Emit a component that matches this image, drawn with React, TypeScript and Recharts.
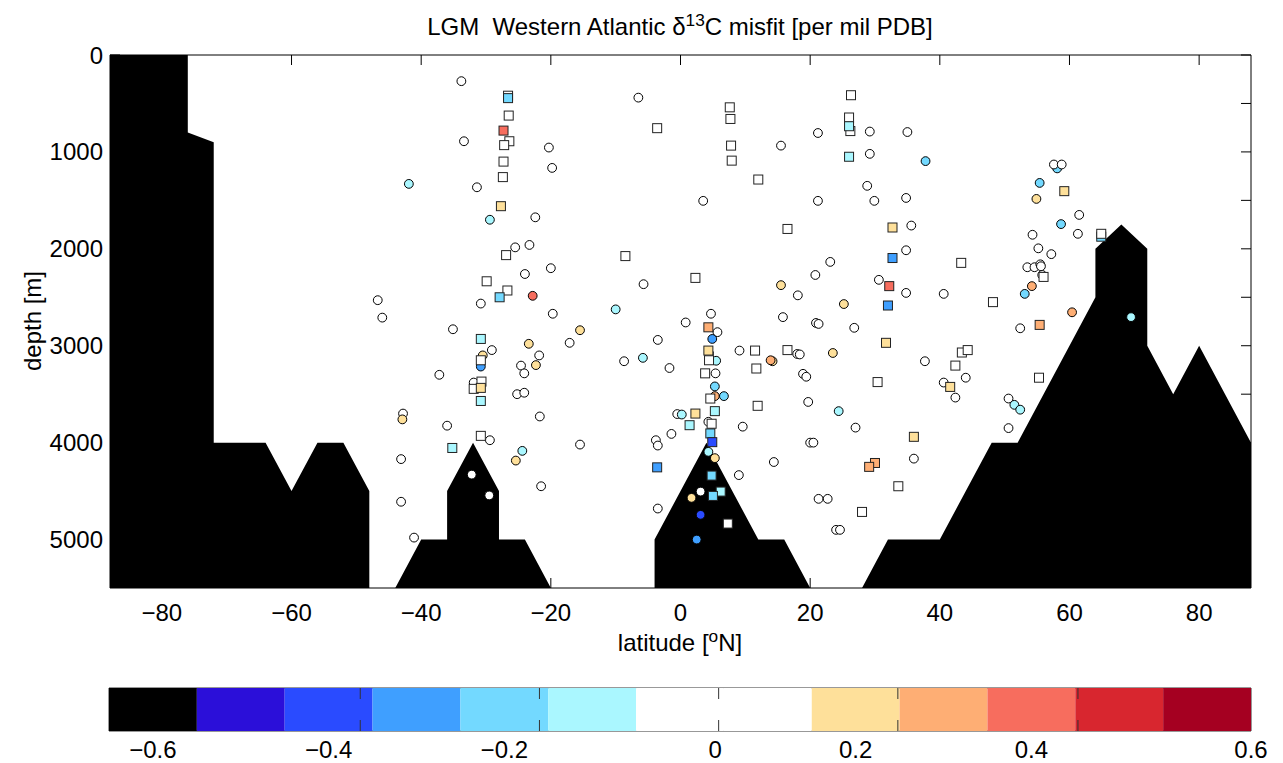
import React from 'react';
import {
  ComposedChart, Area, Scatter, XAxis, YAxis, BarChart, Bar, ReferenceArea, ReferenceLine,
} from 'recharts';

// bathymetry section (latitude, depth of sea floor)
const TOPO_LAT = [-88, -76, -76, -72, -72, -64, -60, -56, -52, -48, -48, -44, -40, -36, -36, -32, -28, -28, -24, -20, -4, -4, 4, 12, 16, 20, 28, 32, 40, 48, 52, 64, 64, 68, 72, 72, 76, 80, 88];
const TOPO_DEPTH = [0, 0, 800, 900, 4000, 4000, 4500, 4000, 4000, 4500, 5500, 5500, 5000, 5000, 4500, 4000, 4500, 5000, 5000, 5500, 5500, 5000, 4000, 5000, 5000, 5500, 5500, 5000, 5000, 4000, 4000, 2500, 2000, 1750, 2000, 3000, 3500, 3000, 4000];

// core sites: [latitude, depth, misfit]
const CIRCLE_SITES: [number, number, number][] = [
  [-33.8, 270, 0], [-33.4, 890, 0], [-20.3, 955, 0], [-19.8, 1165, 0], [-41.9, 1330, -0.1],
  [-31.4, 1365, 0], [-29.4, 1700, -0.1], [-22.4, 1675, 0], [-25.5, 1985, 0], [-23.3, 1960, 0],
  [-20.0, 2200, 0], [-24.0, 2260, 0], [-22.8, 2485, 0.4], [-46.7, 2530, 0], [-30.8, 2565, 0],
  [-46.0, 2710, 0], [-19.7, 2670, 0], [-35.1, 2830, 0], [-15.5, 2840, 0.2],
  [-29.1, 3045, 0], [-30.5, 3100, 0.2], [-30.8, 3215, -0.3], [-23.4, 2980, 0.2], [-21.8, 3100, 0],
  [-22.3, 3200, 0.2], [-24.6, 3205, 0], [-24.1, 3285, 0], [-17.1, 2970, 0], [-37.2, 3300, 0],
  [-31.9, 3380, 0], [-25.2, 3500, 0], [-24.1, 3485, 0], [-42.8, 3700, 0], [-42.9, 3760, 0.2],
  [-36.0, 3825, 0], [-21.7, 3730, 0], [-15.5, 4020, 0], [-29.4, 3975, 0], [-24.4, 4085, -0.1],
  [-25.4, 4185, 0.2], [-43.1, 4170, 0], [-21.5, 4450, 0], [-32.2, 4330, 0], [-29.5, 4545, 0],
  [-43.1, 4610, 0], [-41.1, 4980, 0],
  [-6.5, 440, 0], [15.5, 935, 0], [3.5, 1505, 0], [-5.7, 2365, 0], [15.5, 2375, 0.2],
  [18.1, 2480, 0], [-10.0, 2625, -0.1], [4.7, 2670, 0], [0.8, 2760, 0], [15.8, 2705, 0],
  [-3.5, 2940, 0], [5.7, 2860, 0], [4.9, 2930, -0.3], [4.4, 3080, 0], [5.5, 3155, -0.1],
  [-8.7, 3160, 0], [-5.8, 3125, -0.1], [-1.7, 3230, 0], [5.4, 3285, 0], [9.1, 3050, 0],
  [18.0, 3085, 0], [18.4, 3090, 0], [14.2, 3160, 0.2], [13.9, 3150, 0.3], [5.3, 3420, -0.2],
  [5.3, 3520, 0.3], [6.7, 3520, -0.2], [-0.5, 3705, 0], [0.2, 3710, -0.1], [4.3, 3785, 0],
  [9.6, 3835, 0], [-3.8, 3975, 0], [-3.5, 4030, 0], [-1.4, 3910, 0], [4.3, 4095, -0.1],
  [5.3, 4160, 0.2], [9.0, 4335, 0], [14.4, 4200, 0], [3.1, 4505, 0], [1.7, 4570, 0.2],
  [-3.5, 4680, 0], [3.1, 4745, -0.4], [2.5, 5000, -0.3],
  [21.2, 805, 0], [29.2, 790, 0], [35.0, 795, 0], [29.2, 1020, 0], [37.8, 1095, -0.2],
  [28.8, 1350, 0], [21.2, 1505, 0], [29.9, 1505, 0], [34.8, 1475, 0], [35.6, 1760, 0],
  [34.8, 2015, 0], [23.1, 2135, 0], [20.8, 2270, 0], [30.6, 2320, 0], [25.2, 2570, 0.2],
  [34.8, 2455, 0], [40.6, 2465, 0], [20.9, 2765, 0], [21.3, 2775, 0], [26.8, 2815, 0],
  [52.4, 2820, 0],
  [23.5, 3075, 0.2], [37.7, 3160, 0], [44.0, 3330, 0], [18.9, 3290, 0], [19.4, 3320, 0],
  [40.6, 3380, 0], [42.4, 3535, 0], [19.7, 3580, 0], [24.4, 3675, -0.1], [27.0, 3845, 0],
  [50.6, 3545, 0], [51.5, 3610, -0.1], [52.4, 3660, -0.1], [50.6, 3850, 0], [20.0, 4000, 0],
  [20.5, 4000, 0], [36.0, 4165, 0], [21.3, 4580, 0], [22.7, 4580, 0], [24.0, 4900, 0],
  [24.6, 4900, 0],
  [58.1, 1170, -0.2], [57.6, 1130, 0], [58.8, 1130, 0], [55.4, 1320, -0.2], [54.9, 1485, 0.2],
  [61.5, 1650, 0], [58.7, 1745, -0.2], [54.3, 1855, 0], [61.3, 1845, 0], [55.2, 1995, 0],
  [57.2, 2055, 0], [53.5, 2190, 0], [54.6, 2190, 0], [55.5, 2160, 0], [55.6, 2180, 0],
  [55.8, 2270, 0], [54.2, 2385, 0.3], [53.1, 2465, -0.2], [60.4, 2655, 0.3], [69.5, 2705, -0.1],
];

const SQUARE_SITES: [number, number, number][] = [
  [-26.6, 420, 0], [-26.6, 445, -0.2], [-26.5, 625, 0], [-27.3, 780, 0.4], [-26.4, 890, 0],
  [-27.2, 930, 0], [-27.3, 1100, 0], [-27.4, 1260, 0], [-27.7, 1560, 0.2], [-26.9, 2065, 0],
  [-29.9, 2335, 0], [-26.7, 2430, 0], [-27.9, 2500, -0.2],
  [-30.8, 2930, -0.1], [-30.8, 3150, 0], [-30.7, 3370, 0], [-31.9, 3445, 0], [-30.8, 3435, 0.2],
  [-30.8, 3570, -0.1], [-30.8, 3930, 0], [-35.2, 4055, -0.1],
  [7.6, 540, 0], [7.7, 660, 0], [-3.6, 755, 0], [7.8, 935, 0], [7.9, 1090, 0],
  [12.0, 1285, 0], [16.5, 1795, 0], [-8.5, 2075, 0], [2.3, 2300, 0],
  [4.3, 2810, 0.3], [4.3, 3050, 0.2], [4.4, 3150, 0], [3.8, 3285, 0], [11.5, 3050, 0],
  [11.7, 3235, 0], [16.5, 3045, 0], [4.6, 3545, 0], [11.9, 3620, 0], [5.3, 3675, -0.1],
  [2.3, 3700, 0.2], [1.4, 3820, -0.1], [4.8, 3805, 0], [4.6, 3905, -0.2], [4.9, 3995, -0.4],
  [-3.6, 4255, -0.3], [4.8, 4340, -0.2], [6.2, 4505, -0.1], [5.0, 4550, -0.2], [7.3, 4835, 0],
  [26.3, 415, 0], [26.0, 645, 0], [26.2, 785, 0], [26.0, 735, -0.1], [26.0, 1050, -0.1],
  [32.7, 1780, 0.2], [32.7, 2095, -0.3], [43.3, 2145, 0], [32.2, 2385, 0.4], [32.0, 2585, -0.3],
  [48.2, 2550, 0],
  [31.7, 2970, 0.2], [43.4, 3070, 0], [44.3, 3045, 0], [42.4, 3205, 0], [30.4, 3375, 0],
  [41.6, 3425, 0.2], [36.0, 3940, 0.2], [30.0, 4210, 0.3], [29.1, 4250, 0.3], [33.6, 4450, 0],
  [28.0, 4715, 0],
  [59.2, 1405, 0.2], [64.9, 1875, -0.2], [64.9, 1845, 0], [56.0, 2290, 0], [55.4, 2785, 0.3],
  [55.3, 3330, 0],
];

const LAT_TICKS = [-80, -60, -40, -20, 0, 20, 40, 60, 80];
const DEPTH_TICKS = [0, 500, 1000, 1500, 2000, 2500, 3000, 3500, 4000, 4500, 5000];

// colour bar
const CBAR_COLORS = ['#000000', '#2b0fd9', '#2a4bff', '#3f9fff', '#73d9ff', '#aaf7ff', '#ffffff', '#ffffff', '#fee09a', '#feae74', '#f76d5e', '#d8262f', '#a50021'];
const CBAR_TICK_POS = [2.86, 4.9, 6.94, 8.98, 11.03];
const CBAR_LABEL_POS = [0.5, 2.5, 4.5, 6.9, 8.5, 10.5, 13];
const CBAR_LABELS = ['\u22120.6', '\u22120.4', '\u22120.2', '0', '0.2', '0.4', '0.6'];

const FONT = '"Liberation Sans", Arial, Helvetica, sans-serif';
const FS = 24;

const misfitColor = (v: number) =>
  CBAR_COLORS[Math.max(0, Math.min(12, Math.round((v + 0.6) * 10)))];

const topo = TOPO_LAT.map((lat, i) => ({ lat, depth: TOPO_DEPTH[i] }));
const toRows = (s: [number, number, number][]) => s.map(([lat, depth, misfit]) => ({ lat, depth, misfit }));
const circles = toRows(CIRCLE_SITES);
const squares = toRows(SQUARE_SITES);

const cbarRow: any = { name: 'cb' };
CBAR_COLORS.forEach((_, i) => { cbarRow[`s${i}`] = 1; });

const minus = (v: number) => String(v).replace('-', '\u2212');

const circleShape = (p: any) => (
  <circle cx={p.cx} cy={p.cy} r={4.4} fill={misfitColor(p.payload.misfit)} stroke="#000" strokeWidth={1} />
);
const squareShape = (p: any) => (
  <rect x={p.cx - 4.5} y={p.cy - 4.5} width={9} height={9} fill={misfitColor(p.payload.misfit)} stroke="#222" strokeWidth={1} />
);

// inward tick marks on the colour bar, top and bottom edges
const cbarTick = (p: any) => {
  const top = Math.min(p.y1, p.y2);
  const bot = Math.max(p.y1, p.y2);
  return (
    <g>
      <line x1={p.x1} x2={p.x1} y1={top} y2={top + 11} stroke="#333" strokeWidth={1} />
      <line x1={p.x1} x2={p.x1} y1={bot - 11} y2={bot} stroke="#333" strokeWidth={1} />
    </g>
  );
};

const tickStyle = { fill: '#000', fontSize: FS, fontFamily: FONT };

export default function App() {
  return (
    <div style={{ position: 'absolute', left: 0, top: 0, width: 1283, height: 763, background: '#fff', fontFamily: FONT, color: '#000' }}>
      <div style={{ position: 'absolute', left: 680, top: 12, transform: 'translateX(-50%)', fontSize: FS, lineHeight: 1, whiteSpace: 'nowrap' }}>
        LGM&nbsp; Western Atlantic δ<sup style={{ fontSize: '0.72em' }}>13</sup>C misfit [per mil PDB]
      </div>

      <div style={{ position: 'absolute', left: 0, top: 0 }}>
        <ComposedChart width={1283} height={640} margin={{ top: 54, right: 31, left: 50, bottom: 12 }}>
          <XAxis
            xAxisId="b" dataKey="lat" type="number" domain={[-88, 88]} ticks={LAT_TICKS} interval={0}
            tickSize={-10} tickMargin={26} tick={tickStyle} tickFormatter={minus} height={40}
            stroke="#000" allowDataOverflow
          />
          <XAxis
            xAxisId="t" orientation="top" dataKey="lat" type="number" domain={[-88, 88]} ticks={LAT_TICKS}
            interval={0} tickSize={-10} tickFormatter={() => ''} height={1} stroke="#000" allowDataOverflow
          />
          <YAxis
            yAxisId="l" dataKey="depth" type="number" domain={[0, 5500]} reversed ticks={DEPTH_TICKS} interval={0}
            tickSize={-10} tickMargin={17} tick={tickStyle} width={60} stroke="#000" allowDataOverflow
            tickFormatter={(v: number) => (v % 1000 === 0 ? String(v) : '')}
          />
          <YAxis
            yAxisId="r" orientation="right" dataKey="depth" type="number" domain={[0, 5500]} reversed
            ticks={DEPTH_TICKS} interval={0} tickSize={-10} tickFormatter={() => ''} width={1} stroke="#000"
            allowDataOverflow
          />
          <Area
            xAxisId="b" yAxisId="l" data={topo} dataKey="depth" type="linear" baseValue={5500}
            fill="#000" fillOpacity={1} stroke="none" isAnimationActive={false} dot={false} activeDot={false}
          />
          <Scatter xAxisId="b" yAxisId="l" data={circles} shape={circleShape} isAnimationActive={false} />
          <Scatter xAxisId="b" yAxisId="l" data={squares} shape={squareShape} isAnimationActive={false} />
        </ComposedChart>
      </div>

      <div style={{ position: 'absolute', left: 33, top: 321, transform: 'translate(-50%, -50%) rotate(-90deg)', fontSize: FS, lineHeight: 1, whiteSpace: 'nowrap' }}>
        depth [m]
      </div>
      <div style={{ position: 'absolute', left: 680, top: 628, transform: 'translateX(-50%)', fontSize: FS, lineHeight: 1, whiteSpace: 'nowrap' }}>
        latitude [<sup style={{ fontSize: '0.72em' }}>o</sup>N]
      </div>

      <div style={{ position: 'absolute', left: 0, top: 680 }}>
        <BarChart width={1283} height={91} layout="vertical" data={[cbarRow]} barCategoryGap={0}
          margin={{ top: 8, right: 32, left: 109, bottom: 0 }}>
          <XAxis xAxisId="m" type="number" domain={[0, 13]} hide allowDataOverflow />
          <XAxis xAxisId="lab" type="number" domain={[0, 13]} ticks={CBAR_LABEL_POS} interval={0}
            tickSize={0} tickLine={false} axisLine={false} tickMargin={10} tick={tickStyle} height={40}
            tickFormatter={(v: number) => CBAR_LABELS[CBAR_LABEL_POS.indexOf(v)]} allowDataOverflow />
          <YAxis type="category" dataKey="name" hide />
          {CBAR_COLORS.map((c, i) => (
            <Bar key={i} xAxisId="m" dataKey={`s${i}`} stackId="cb" fill={c} isAnimationActive={false} />
          ))}
          {CBAR_TICK_POS.map((x) => (
            <ReferenceLine key={x} xAxisId="m" x={x} shape={cbarTick} ifOverflow="visible" />
          ))}
          <ReferenceArea xAxisId="m" x1={0} x2={13} fill="none" stroke="#333" strokeWidth={1} ifOverflow="visible" />
        </BarChart>
      </div>
    </div>
  );
}
